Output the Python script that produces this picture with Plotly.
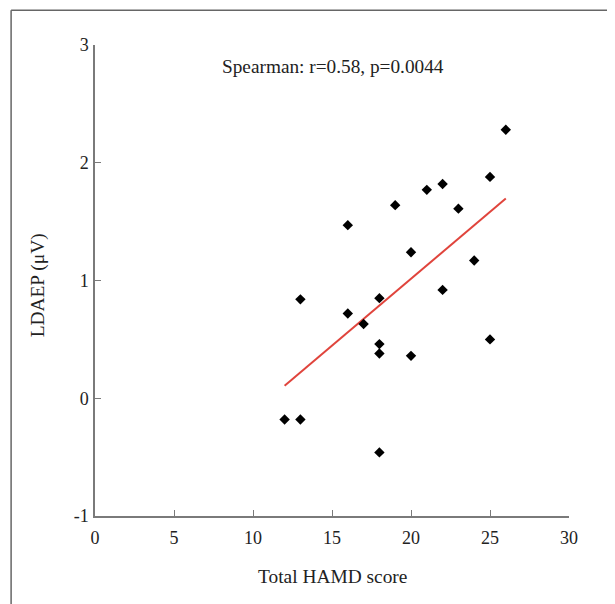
import numpy as np
import plotly.graph_objects as go

hamd = [26, 25, 23, 22, 21, 19, 16, 20, 24, 22, 13, 18, 16, 17, 18, 18, 20, 25, 12, 13, 18]
ldaep = [2.28, 1.88, 1.61, 1.82, 1.77, 1.64, 1.47, 1.24, 1.17, 0.92, 0.84, 0.85, 0.72, 0.63,
         0.46, 0.38, 0.36, 0.50, -0.18, -0.18, -0.46]
x_ticks = [0, 5, 10, 15, 20, 25, 30]
y_ticks = [-1, 0, 1, 2, 3]
y_tick_labels = ["-1", "0", "1", "2", "3"]

slope, intercept = np.polyfit(hamd, ldaep, 1)
fit_x = [min(hamd), max(hamd)]
fit_y = [slope * v + intercept for v in fit_x]

font_family = "Liberation Serif"
axis_col = "#7a7a7a"
text_col = "#222"

fig = go.Figure()
fig.add_trace(go.Scatter(x=fit_x, y=fit_y, mode="lines",
                         line=dict(color="#e0443c", width=2), showlegend=False))
fig.add_trace(go.Scatter(x=hamd, y=ldaep, mode="markers",
                         marker=dict(symbol="diamond", size=8, color="black"), showlegend=False))

# page body has an 8px margin, so the figure is shrunk and margins shifted accordingly
fig.update_layout(
    width=607, height=596,
    margin=dict(l=87, r=46, t=37, b=88),
    paper_bgcolor="white", plot_bgcolor="white",
    font=dict(family=font_family, size=18, color=text_col),
    xaxis=dict(range=[0, 30], tickvals=x_ticks, ticks="inside", ticklen=6, tickcolor=axis_col,
               tickfont=dict(size=18, color=text_col), automargin=False, ticklabelstandoff=5,
               showline=True, linecolor=axis_col, linewidth=1.5, showgrid=False, zeroline=False),
    yaxis=dict(range=[-1, 3], tickvals=y_ticks, ticktext=y_tick_labels, ticks="inside", ticklen=6,
               tickcolor=axis_col, tickfont=dict(size=18, color=text_col), automargin=False,
               ticklabelstandoff=1,
               showline=True, linecolor=axis_col, linewidth=1.5, showgrid=False, zeroline=False),
    annotations=[
        dict(text="Spearman: r=0.58, p=0.0044", xref="paper", yref="paper",
             x=0.502, y=0.955, xanchor="center", yanchor="middle", showarrow=False,
             font=dict(size=19.3, color=text_col)),
        dict(text="Total HAMD score", xref="paper", yref="paper",
             x=0.502, y=-0.1295, xanchor="center", yanchor="middle", showarrow=False,
             font=dict(size=19.4, color=text_col)),
        dict(text="LDAEP (μV)", xref="paper", yref="paper", textangle=-90,
             x=-0.120, y=0.490, xanchor="center", yanchor="middle", showarrow=False,
             font=dict(size=19.4, color=text_col)),
    ],
    shapes=[
        dict(type="line", xref="paper", yref="paper", x0=-0.177, x1=1.2, y0=1.074, y1=1.074,
             line=dict(color="#666", width=1.5)),
        dict(type="line", xref="paper", yref="paper", x0=-0.177, x1=-0.177, y0=1.074, y1=-0.3,
             line=dict(color="#666", width=1.5)),
    ],
)

fig.write_html("out.html")
